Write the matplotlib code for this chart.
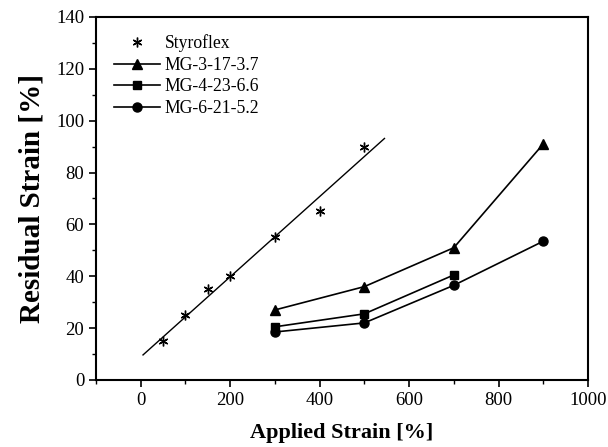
import numpy as np
import matplotlib.pyplot as plt

plt.rcParams['font.family'] = ['Liberation Serif', 'DejaVu Serif']

# Styroflex points
styro_x = [50, 100, 150, 200, 300, 400, 500]
styro_y = [15, 25, 35, 40, 55, 65, 90]

# MG samples
mg3_x = [300, 500, 700, 900]
mg3_y = [27, 36, 51, 91]
mg4_x = [300, 500, 700]
mg4_y = [20.5, 25.5, 40.5]
mg6_x = [300, 500, 700, 900]
mg6_y = [18.5, 22, 36.5, 53.5]

# range of the linear fit line
fit_x = np.array([5, 545])

fig = plt.figure(figsize=(6.08, 4.47), dpi=100)
ax = fig.add_axes([0.158, 0.150, 0.809, 0.812])

slope, icpt = np.polyfit(styro_x, styro_y, 1)
ax.plot(fit_x, slope * fit_x + icpt, color='black', lw=1)
ax.plot(styro_x, styro_y, ls='none', marker=(6, 2, 0), ms=7, mew=1,
        color='black', label='Styroflex')

ax.plot(mg3_x, mg3_y, color='black', lw=1.2, marker='^', ms=7, label='MG-3-17-3.7')
ax.plot(mg4_x, mg4_y, color='black', lw=1.2, marker='s', ms=6, label='MG-4-23-6.6')
ax.plot(mg6_x, mg6_y, color='black', lw=1.2, marker='o', ms=6.5, label='MG-6-21-5.2')

ax.set_xlim(-100, 1000)
ax.set_ylim(0, 140)
ax.set_xticks(range(0, 1001, 200))
ax.set_xticks(range(-100, 1001, 100), minor=True)
ax.set_yticks(range(0, 141, 20))
ax.set_yticks(range(0, 141, 10), minor=True)
ax.tick_params(which='major', direction='out', length=5, width=1.2, labelsize=13.5)
ax.tick_params(which='minor', direction='out', length=3, width=1)
for s in ax.spines.values():
    s.set_linewidth(1.5)

ax.set_xlabel('Applied Strain [%]', fontsize=16, fontweight='bold', labelpad=10)
ax.set_ylabel('Residual Strain [%]', fontsize=21, fontweight='bold', labelpad=8)

ax.legend(loc='upper left', frameon=False, fontsize=12.7, handlelength=2.6,
          handletextpad=0.3, labelspacing=0.25, borderaxespad=0.6)

fig.savefig('out.png', dpi=100)
